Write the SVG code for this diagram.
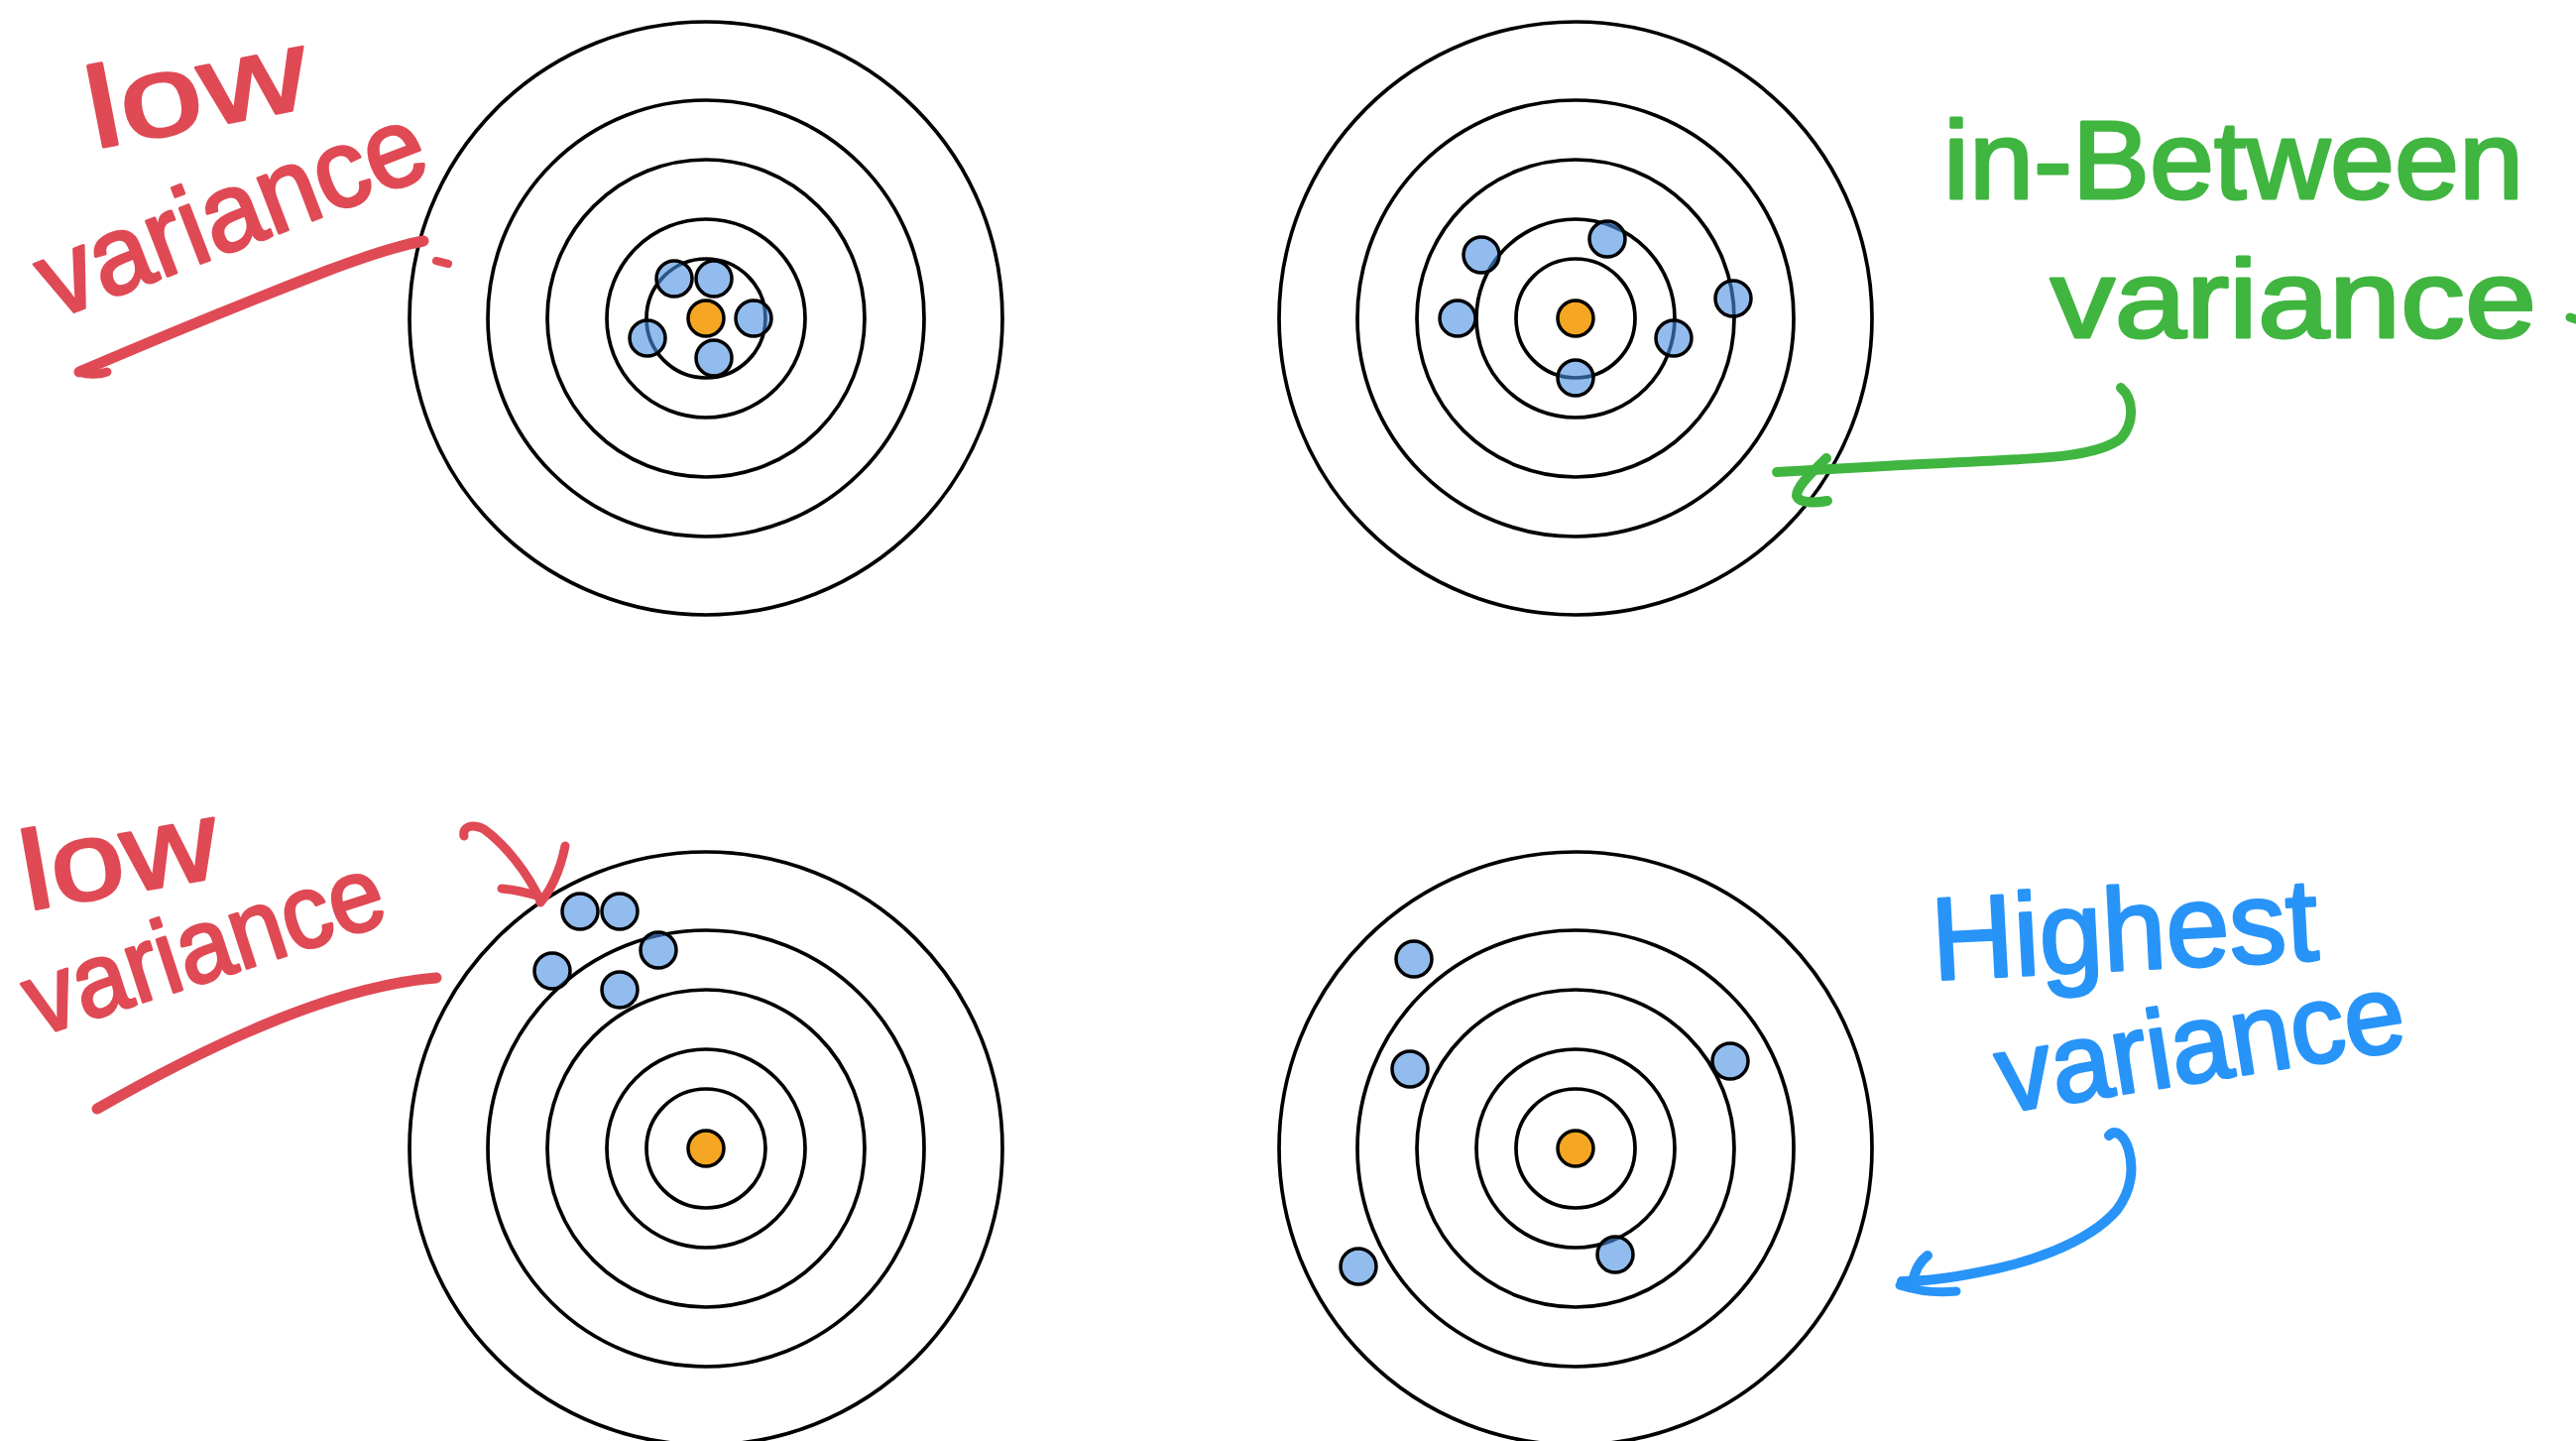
<svg xmlns="http://www.w3.org/2000/svg" width="2598" height="1453" viewBox="0 0 2598 1453">
<style>
.ring{fill:none;stroke:#000;stroke-width:3.7}
.dot{fill:#4A90E2;fill-opacity:0.6;stroke:#000;stroke-width:3.5}
.bull{fill:#F5A623;stroke:#000;stroke-width:3.5}
.hand{font-family:"Liberation Sans",Arial,sans-serif;stroke-width:3;stroke-linejoin:round}
.red{fill:#DF4A55;stroke:#DF4A55}
.green{fill:#40B540;stroke:#40B540}
.blue{fill:#2894F8;stroke:#2894F8}
.ink{fill:none;stroke-linecap:round;stroke-linejoin:round}
</style>
<defs>
<g id="target">
<circle class="ring" r="299"/>
<circle class="ring" r="220"/>
<circle class="ring" r="160"/>
<circle class="ring" r="100"/>
<circle class="ring" r="60"/>
<circle class="bull" r="18"/>
</g>
</defs>
<rect width="2598" height="1453" fill="#fff"/>

<g id="target-top-left">
<use href="#target" x="712" y="321"/>
<circle class="dot" cx="680" cy="281" r="18"/>
<circle class="dot" cx="720" cy="281" r="18"/>
<circle class="dot" cx="760" cy="321" r="18"/>
<circle class="dot" cx="653" cy="341" r="18"/>
<circle class="dot" cx="720" cy="361" r="18"/>
</g>

<g id="target-top-right">
<use href="#target" x="1589" y="321"/>
<circle class="dot" cx="1494" cy="257" r="18"/>
<circle class="dot" cx="1621" cy="241" r="18"/>
<circle class="dot" cx="1470" cy="321" r="18"/>
<circle class="dot" cx="1748" cy="301" r="18"/>
<circle class="dot" cx="1688" cy="341" r="18"/>
<circle class="dot" cx="1589" cy="381" r="18"/>
</g>

<g id="target-bottom-left">
<use href="#target" x="712" y="1158"/>
<circle class="dot" cx="585" cy="919" r="18"/>
<circle class="dot" cx="625" cy="919" r="18"/>
<circle class="dot" cx="664" cy="958" r="18"/>
<circle class="dot" cx="557" cy="979" r="18"/>
<circle class="dot" cx="625" cy="998" r="18"/>
</g>

<g id="target-bottom-right">
<use href="#target" x="1589" y="1158"/>
<circle class="dot" cx="1426" cy="967" r="18"/>
<circle class="dot" cx="1422" cy="1078" r="18"/>
<circle class="dot" cx="1745" cy="1070" r="18"/>
<circle class="dot" cx="1370" cy="1277" r="18"/>
<circle class="dot" cx="1629" cy="1265" r="18"/>
</g>

<g id="label-top-left">
<text class="hand red" x="95" y="150" font-size="115" textLength="225" lengthAdjust="spacingAndGlyphs" transform="rotate(-11 95 150)">low</text>
<text class="hand red" x="55" y="322" font-size="112" textLength="410" lengthAdjust="spacingAndGlyphs" transform="rotate(-21 55 322)">variance</text>
</g>

<g id="label-top-right">
<text class="hand green" x="1960" y="200" font-size="112" textLength="585" lengthAdjust="spacingAndGlyphs">in-Between</text>
<text class="hand green" x="2068" y="340" font-size="112" textLength="490" lengthAdjust="spacingAndGlyphs">variance</text>
</g>

<g id="label-bottom-left">
<text class="hand red" x="28" y="918" font-size="112" textLength="200" lengthAdjust="spacingAndGlyphs" transform="rotate(-10 28 918)">low</text>
<text class="hand red" x="38" y="1045" font-size="105" textLength="375" lengthAdjust="spacingAndGlyphs" transform="rotate(-18 38 1045)">variance</text>
</g>

<g id="label-bottom-right">
<text class="hand blue" x="1950" y="988" font-size="118" textLength="390" lengthAdjust="spacingAndGlyphs" transform="rotate(-3 1950 988)">Highest</text>
<text class="hand blue" x="2020" y="1122" font-size="112" textLength="415" lengthAdjust="spacingAndGlyphs" transform="rotate(-9 2020 1122)">variance</text>
</g>

<g id="connectors">
<!-- top-left red underline -->
<path class="ink" stroke="#DF4A55" stroke-width="11" d="M80,375 C150,345 260,300 330,273 C370,258 400,248 427,243"/>
<path class="ink" stroke="#DF4A55" stroke-width="9" d="M80,375 C88,378 100,378 108,375"/>
<path class="ink" stroke="#DF4A55" stroke-width="8" d="M440,263 L452,266"/>
<!-- top-right green arrow -->
<path class="ink" stroke="#40B540" stroke-width="10" d="M2139,391 C2152,402 2153,426 2139,442 C2108,466 2030,462 1900,470 L1792,476"/>
<path class="ink" stroke="#40B540" stroke-width="10" d="M1842,462 C1828,476 1812,490 1812,500 C1815,508 1832,507 1843,505"/>
<path class="ink" stroke="#40B540" stroke-width="9" d="M2592,320 L2598,322"/>
<!-- bottom-left red underline and arrow -->
<path class="ink" stroke="#DF4A55" stroke-width="11" d="M98,1118 C200,1060 330,995 440,986"/>
<path class="ink" stroke="#DF4A55" stroke-width="9" d="M468,843 C466,834 475,830 488,836 C510,852 532,880 545,908"/>
<path class="ink" stroke="#DF4A55" stroke-width="9" d="M506,896 C520,897 532,900 544,904"/>
<path class="ink" stroke="#DF4A55" stroke-width="9" d="M570,853 C566,872 560,892 545,910"/>
<!-- bottom-right blue arrow -->
<path class="ink" stroke="#2894F8" stroke-width="10" d="M2127,1145 C2134,1137 2143,1146 2147,1160 C2152,1178 2150,1200 2135,1220 C2105,1255 2040,1275 1995,1283 C1960,1290 1935,1292 1918,1292"/>
<path class="ink" stroke="#2894F8" stroke-width="10" d="M1944,1266 C1936,1272 1931,1282 1929,1293"/>
<path class="ink" stroke="#2894F8" stroke-width="9" d="M1916,1296 C1935,1302 1955,1304 1973,1302"/>
</g>
</svg>
